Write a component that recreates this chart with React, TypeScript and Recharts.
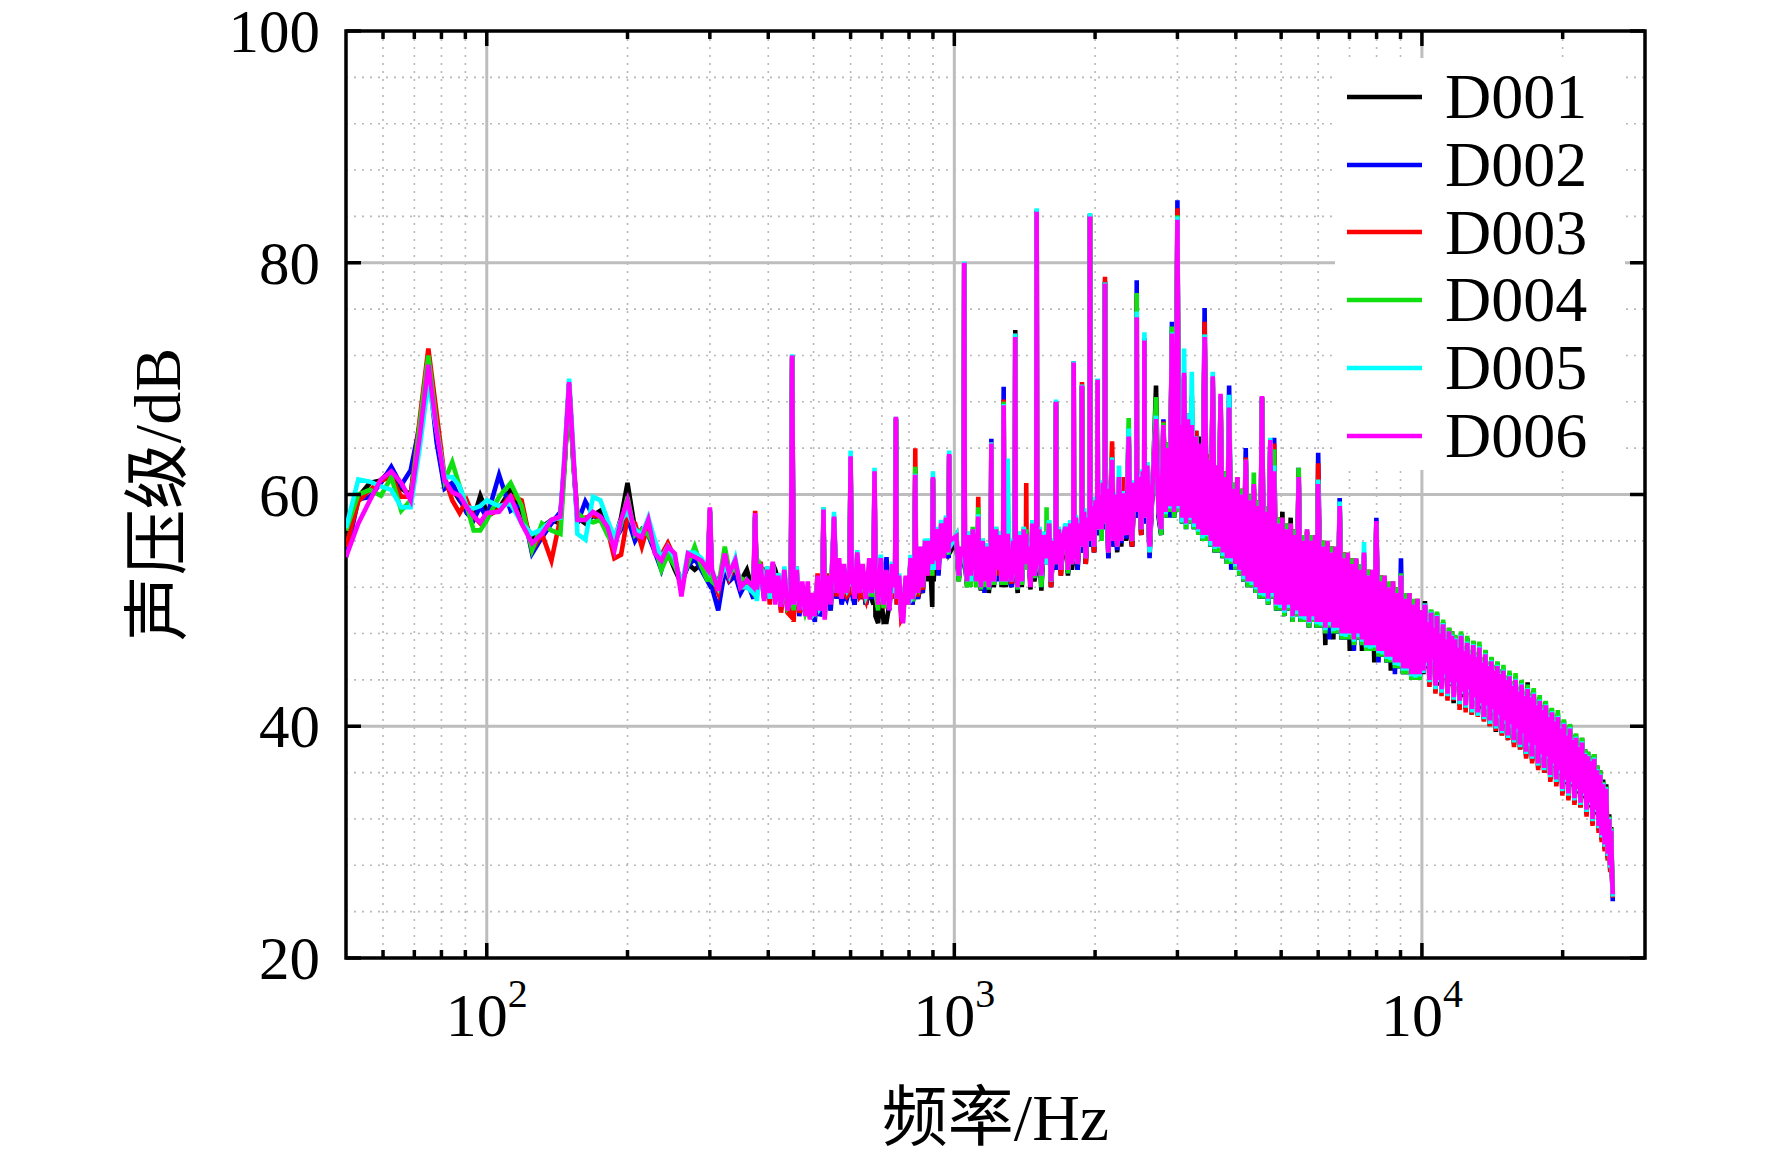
import {
  LineChart,
  Line,
  XAxis,
  YAxis,
  CartesianGrid,
  ReferenceArea,
  Legend,
} from "recharts";

// frequency axis (Hz)
const freq = [
  // 50 - 200
  50, 53.125, 56.25, 59.375, 62.5, 65.625, 68.75, 71.875, 75, 78.125,
  81.25, 84.375, 87.5, 90.625, 93.75, 96.875, 100, 106.25, 112.5, 118.75,
  125, 131.25, 137.5, 143.75, 146.875, 150, 153.125, 156.25, 162.5, 168.75,
  175, 181.25, 187.5, 193.75, 200,
  // 200 - 1000
  207.5, 214.6, 221.6, 229, 236.3, 244, 252.5, 260.8, 269.4, 278.4,
  287.7, 296.9, 300, 303.1, 312.6, 322.9, 330, 340, 349, 360,
  371.9, 375, 378.1, 385, 392, 398, 403, 409, 414, 420,
  426, 433, 440, 446.9, 450, 453.1, 460, 466, 473, 480,
  486, 491, 496, 503, 510, 516, 521.9, 525, 528.1, 535,
  544, 553, 560, 567, 574, 581, 589, 596.9, 600, 603.1,
  612, 620, 628, 637, 647, 658, 665, 671.9, 675, 678.1,
  687, 696, 706, 716, 726, 736, 746.9, 750, 753.1, 762,
  770, 777, 787, 797, 806, 814, 821.9, 825, 828.1, 836,
  846, 856, 866, 876, 886, 896.9, 900, 903.1, 914, 925,
  937, 950, 960, 971.9, 975, 978.1,
  // 1000 - 2800
  1010, 1022, 1035, 1046.9, 1050, 1053.1, 1065, 1075, 1085, 1095,
  1105, 1115, 1121.9, 1125, 1128.1, 1140, 1150, 1160, 1172, 1185,
  1196.9, 1200, 1203.1, 1215, 1228, 1240, 1252, 1262, 1271.9, 1275,
  1278.1, 1290, 1300, 1312, 1325, 1337, 1346.9, 1350, 1353.1, 1366,
  1380, 1394, 1408, 1421.9, 1425, 1428.1, 1441, 1455, 1469, 1483,
  1496.9, 1500, 1503.1, 1519, 1535, 1553, 1571.9, 1575, 1578.1, 1594,
  1610, 1628, 1646.9, 1650, 1653.1, 1671, 1690, 1710, 1730, 1750,
  1770, 1784, 1796.9, 1800, 1803.1, 1819, 1835, 1853, 1871.9, 1875,
  1878.1, 1894, 1910, 1928, 1946.9, 1950, 1953.1, 1971, 1990, 2005,
  2021.9, 2025, 2028.1, 2046, 2065, 2080, 2096.9, 2100, 2103.1, 2118,
  2135, 2155, 2175, 2192, 2210, 2230, 2250, 2275, 2300, 2330,
  2360, 2380, 2400, 2425, 2451.9, 2455, 2458.1, 2485, 2510, 2530,
  2546.9, 2550, 2553.1, 2585, 2615, 2655, 2700, 2735, 2770,
  // 2800 - 10000
  2800, 2830, 2860, 2890, 2920, 2950, 2980, 3000, 3020, 3040,
  3070, 3100, 3130, 3160, 3190, 3220, 3255, 3290, 3325, 3360,
  3395, 3430, 3465, 3500, 3535, 3570, 3605, 3640, 3675, 3710,
  3750, 3790, 3830, 3870, 3910, 3950, 3990, 4030, 4070, 4110,
  4155, 4200, 4240, 4280, 4325, 4370, 4415, 4460, 4505, 4550,
  4595, 4640, 4690, 4740, 4785, 4830, 4880, 4930, 4980, 5030,
  5080, 5130, 5185, 5240, 5290, 5340, 5395, 5450, 5505, 5560,
  5620, 5680, 5735, 5790, 5850, 5910, 5955, 6000, 6075, 6150,
  6215, 6280, 6340, 6400, 6465, 6530, 6600, 6670, 6735, 6800,
  6870, 6940, 7010, 7080, 7155, 7230, 7300, 7370, 7445, 7520,
  7600, 7680, 7755, 7830, 7910, 7990, 8075, 8160, 8240, 8320,
  8405, 8490, 8580, 8670, 8755, 8840, 8930, 9020, 9115, 9210,
  9305, 9400, 9495, 9590, 9685, 9780, 9890, 10000,
  // 10000 - 25600
  10075, 10150, 10225, 10300, 10380, 10460, 10535, 10610, 10690, 10770,
  10850, 10930, 11015, 11100, 11180, 11260, 11345, 11430, 11515, 11600,
  11690, 11780, 11865, 11950, 12040, 12130, 12220, 12310, 12405, 12500,
  12595, 12690, 12785, 12880, 12975, 13070, 13170, 13270, 13370, 13470,
  13570, 13670, 13770, 13870, 13975, 14080, 14185, 14290, 14395, 14500,
  14610, 14720, 14830, 14940, 15055, 15170, 15280, 15390, 15505, 15620,
  15740, 15860, 15980, 16100, 16220, 16340, 16460, 16580, 16705, 16830,
  16955, 17080, 17210, 17340, 17470, 17600, 17730, 17860, 17995, 18130,
  18265, 18400, 18540, 18680, 18820, 18960, 19100, 19240, 19385, 19530,
  19675, 19820, 19970, 20120, 20270, 20420, 20575, 20730, 20885, 21040,
  21195, 21350, 21510, 21670, 21835, 22000, 22165, 22330, 22495, 22660,
  22830, 23000, 23175, 23350, 23525, 23700, 23875, 24050, 24230, 24410,
  24595, 24780, 24965, 25150, 25275, 25400, 25500, 25600,
];

const d001 = [
  56.0, 59.8, 61.0, 61.2, 62.2, 60.5, 60.0, 66.0, 71.5, 65.0,
  60.7, 60.5, 59.5, 58.8, 58.0, 59.9, 58.5, 58.8, 60.4, 58.5,
  56.0, 57.2, 57.8, 57.5, 63.0, 69.5, 63.0, 58.0, 57.5, 58.2,
  58.6, 57.2, 56.0, 58.0, 61.0,
  57.0, 56.0, 57.0, 55.5, 54.0, 55.0, 53.5, 52.3, 54.0, 53.5,
  54.0, 53.0, 58.5, 53.0, 52.5, 54.0, 53.5, 53.0, 52.5, 53.5,
  51.5, 58.0, 52.0, 53.5, 53.5, 53.0, 51.0, 54.0, 53.5, 52.5,
  51.5, 53.0, 50.5, 51.5, 71.8, 51.0, 53.0, 50.5, 52.0, 50.0,
  50.0, 50.5, 50.5, 50.0, 52.5, 50.5, 51.0, 58.3, 50.0, 52.5,
  50.0, 57.6, 51.0, 53.0, 51.5, 52.0, 51.0, 53.5, 63.0, 52.5,
  50.5, 54.5, 51.0, 52.0, 50.5, 52.0, 51.0, 50.5, 61.8, 49.5,
  48.9, 51.5, 49.0, 49.0, 50.5, 53.0, 51.5, 66.5, 51.5, 52.5,
  50.0, 50.5, 52.5, 51.0, 54.0, 50.5, 52.5, 61.5, 52.5, 51.0,
  52.0, 51.5, 55.5, 52.5, 55.0, 50.3, 61.3, 52.5, 56.5, 54.8,
  57.0, 55.0, 57.5, 54.5, 63.3, 55.0,
  56.0, 52.5, 55.0, 54.5, 79.8, 54.5, 52.0, 56.0, 53.5, 56.5,
  55.0, 52.0, 54.0, 57.8, 54.0, 51.7, 55.5, 52.0, 55.0, 51.5,
  53.5, 64.3, 53.5, 52.0, 56.5, 53.0, 56.0, 52.0, 54.0, 67.9,
  54.0, 52.0, 55.5, 53.0, 52.0, 55.5, 53.5, 74.2, 53.5, 51.5,
  56.0, 52.0, 56.5, 53.5, 56.5, 53.5, 55.0, 51.8, 57.0, 52.5,
  53.5, 84.4, 53.5, 56.5, 51.7, 56.0, 54.0, 55.2, 54.0, 57.0,
  52.0, 55.5, 53.5, 67.8, 53.5, 56.5, 53.0, 56.0, 56.5, 53.0,
  57.0, 53.5, 54.5, 71.3, 54.5, 57.5, 53.5, 57.0, 55.0, 69.3,
  55.0, 58.0, 54.0, 57.5, 55.5, 84.0, 55.5, 58.5, 55.0, 59.0,
  56.5, 69.7, 56.5, 59.5, 56.5, 60.5, 57.0, 78.3, 57.0, 60.0,
  54.5, 59.0, 62.5, 55.5, 59.5, 55.0, 61.0, 55.5, 59.5, 56.0,
  64.5, 56.5, 55.5, 60.5, 58.0, 76.0, 58.0, 61.0, 56.5, 61.5,
  57.5, 73.2, 57.5, 62.0, 55.0, 60.5, 69.4, 58.0, 56.5,
  66.0, 58.0, 64.5, 58.5, 74.0, 58.0, 63.5, 84.0, 58.5, 66.5,
  57.5, 70.2, 58.0, 67.0, 57.5, 67.0, 57.0, 65.5, 56.5, 65.0,
  56.0, 73.5, 56.0, 63.5, 55.5, 70.0, 55.0, 62.0, 55.0, 68.5,
  54.5, 62.0, 54.0, 67.3, 54.0, 61.0, 53.5, 61.2, 53.0, 60.5,
  52.5, 63.0, 52.0, 60.0, 52.0, 60.7, 51.5, 59.5, 51.0, 68.4,
  51.0, 59.0, 50.5, 64.5, 51.0, 62.0, 50.0, 58.0, 50.0, 58.5,
  49.5, 57.5, 50.0, 58.0, 49.0, 57.0, 49.5, 61.5, 49.0, 56.5,
  49.0, 56.8, 48.5, 56.5, 49.0, 56.2, 48.5, 60.9, 48.5, 56.0,
  47.0, 55.8, 48.5, 55.5, 47.5, 55.3, 48.0, 58.9, 47.5, 55.0,
  47.5, 54.8, 46.5, 54.5, 47.0, 54.4, 47.5, 54.0, 46.5, 54.8,
  46.5, 53.5, 46.5, 53.3, 45.5, 57.5, 46.0, 53.0, 46.0, 52.8,
  45.5, 52.4, 44.8, 52.0, 45.0, 52.0, 45.0, 53.0, 44.5, 51.3,
  44.5, 51.0, 44.0, 50.8, 44.0, 50.5, 44.0, 49.8,
  44.5, 50.8, 45.0, 49.5, 43.8, 50.0, 45.5, 48.8, 43.0, 49.8,
  43.5, 48.3, 43.0, 49.0, 44.0, 47.8, 42.5, 48.5, 43.5, 48.2,
  42.0, 47.8, 43.5, 47.2, 41.8, 48.0, 42.5, 46.8, 41.5, 47.6,
  42.8, 46.5, 41.0, 47.3, 42.2, 46.4, 41.0, 47.0, 41.5, 45.8,
  40.5, 46.5, 41.5, 45.5, 40.0, 45.9, 41.0, 45.2, 39.5, 45.5,
  40.6, 44.9, 39.2, 45.0, 40.0, 44.3, 38.8, 44.6, 39.8, 43.9,
  38.4, 44.3, 39.4, 43.3, 38.0, 43.9, 39.0, 43.0, 37.4, 43.8,
  38.2, 42.8, 37.0, 43.1, 38.0, 42.2, 36.4, 42.5, 37.2, 41.8,
  36.0, 42.1, 37.0, 41.2, 35.4, 41.5, 36.4, 40.8, 35.0, 41.1,
  35.8, 40.2, 34.2, 40.5, 35.0, 39.6, 33.8, 40.1, 34.8, 39.2,
  33.4, 39.3, 34.2, 38.6, 33.0, 39.0, 33.8, 38.0, 32.4, 37.8,
  33.0, 37.4, 31.6, 37.6, 32.4, 36.6, 31.0, 36.2, 30.2, 35.4,
  29.4, 35.0, 28.6, 32.4, 27.6, 31.3, 27.2, 25.3,
];

const d002 = [
  54.6, 59.6, 59.8, 61.0, 62.4, 60.8, 62.1, 66.0, 71.0, 64.5,
  60.5, 61.0, 59.6, 58.4, 57.8, 59.0, 58.0, 61.7, 58.6, 59.2,
  54.9, 56.3, 57.5, 58.5, 63.0, 69.5, 63.0, 57.5, 59.4, 58.2,
  57.8, 57.2, 56.0, 57.0, 58.0,
  56.0, 57.0, 56.5, 55.0, 53.5, 55.5, 54.0, 52.5, 53.8, 54.5,
  53.5, 52.5, 58.6, 52.0, 50.0, 53.5, 52.5, 53.0, 51.5, 52.5,
  51.0, 58.2, 51.5, 53.5, 51.0, 53.0, 52.5, 53.8, 51.5, 52.5,
  50.0, 53.0, 49.8, 50.5, 72.0, 50.5, 53.0, 49.5, 51.0, 49.8,
  51.5, 49.5, 50.5, 49.0, 52.5, 49.5, 50.0, 58.5, 50.0, 52.5,
  50.0, 58.0, 51.0, 52.5, 50.5, 51.5, 51.0, 52.0, 63.0, 51.5,
  50.5, 54.0, 51.0, 52.5, 50.5, 52.0, 51.0, 52.0, 61.9, 52.5,
  50.5, 54.6, 51.0, 54.6, 50.0, 53.5, 51.0, 66.5, 50.5, 52.5,
  49.8, 50.0, 52.5, 51.5, 54.0, 50.5, 52.0, 62.0, 51.5, 51.0,
  53.0, 51.5, 55.5, 53.5, 55.5, 53.5, 61.3, 53.5, 56.5, 53.0,
  57.0, 55.5, 57.5, 54.5, 63.3, 55.5,
  56.0, 52.8, 54.5, 54.0, 79.9, 54.0, 52.3, 56.2, 52.5, 56.8,
  54.5, 52.2, 54.5, 57.9, 54.5, 51.8, 55.8, 51.5, 55.2, 51.8,
  54.0, 64.8, 54.0, 52.2, 56.8, 52.5, 56.2, 52.2, 54.0, 69.3,
  54.0, 52.2, 56.0, 53.2, 52.0, 55.8, 53.5, 73.8, 53.5, 51.8,
  56.2, 52.2, 56.8, 53.5, 56.8, 53.5, 55.2, 52.5, 57.2, 52.8,
  53.5, 84.5, 53.5, 56.8, 52.0, 56.2, 54.0, 55.0, 54.0, 57.2,
  52.0, 55.8, 53.5, 68.0, 53.5, 56.8, 54.0, 56.2, 56.8, 53.2,
  57.2, 54.5, 54.5, 71.5, 54.5, 57.8, 53.5, 57.2, 55.0, 69.4,
  55.0, 58.2, 54.0, 57.8, 55.5, 84.2, 55.5, 58.8, 55.0, 59.2,
  56.5, 69.8, 56.5, 59.8, 56.5, 60.8, 57.0, 78.4, 57.0, 60.2,
  54.5, 59.2, 63.2, 55.5, 59.8, 55.2, 61.2, 55.8, 60.0, 56.2,
  65.0, 56.8, 55.5, 60.8, 58.0, 78.5, 58.0, 61.2, 56.5, 61.8,
  57.5, 73.5, 57.5, 62.2, 54.5, 60.8, 66.8, 58.2, 56.5,
  66.5, 58.0, 64.0, 58.0, 74.9, 58.0, 62.5, 85.4, 58.5, 65.5,
  57.5, 70.0, 57.0, 66.0, 57.5, 65.1, 57.0, 64.5, 56.5, 63.0,
  56.0, 76.1, 56.0, 62.5, 55.5, 69.5, 55.0, 62.0, 55.0, 67.5,
  54.5, 61.0, 54.0, 69.4, 53.5, 60.5, 53.5, 61.0, 53.0, 59.5,
  52.5, 64.0, 52.0, 59.0, 52.0, 60.5, 51.5, 58.5, 51.0, 68.3,
  51.0, 58.0, 50.5, 64.5, 51.0, 64.9, 50.0, 57.0, 50.0, 57.5,
  49.5, 56.5, 50.0, 57.0, 49.0, 56.0, 49.5, 62.3, 49.0, 55.5,
  49.0, 56.5, 48.5, 55.5, 49.0, 56.0, 48.5, 63.6, 48.5, 55.0,
  48.0, 55.5, 47.5, 54.5, 48.0, 55.0, 48.0, 59.7, 47.5, 54.0,
  47.5, 54.5, 47.5, 53.5, 46.5, 54.0, 47.5, 53.0, 47.0, 54.6,
  46.5, 52.5, 46.5, 53.0, 46.5, 58.0, 45.5, 52.0, 46.0, 52.5,
  45.5, 51.5, 45.5, 52.0, 44.5, 51.0, 45.0, 54.5, 44.5, 50.5,
  44.5, 51.0, 44.0, 50.0, 44.0, 50.5, 44.0, 49.5,
  44.9, 50.3, 45.8, 48.8, 43.6, 49.6, 46.0, 48.2, 43.2, 49.2,
  44.3, 47.6, 42.9, 48.5, 44.8, 47.2, 42.5, 47.9, 44.0, 47.5,
  42.3, 47.2, 44.0, 46.4, 41.9, 47.5, 43.2, 46.2, 41.6, 46.9,
  43.4, 45.9, 41.3, 46.6, 42.7, 45.7, 41.0, 46.5, 42.2, 45.2,
  40.6, 45.9, 42.0, 44.9, 40.3, 45.2, 41.7, 44.5, 39.8, 44.9,
  41.2, 44.2, 39.4, 44.5, 40.7, 43.7, 39.0, 43.9, 40.4, 43.2,
  38.6, 43.7, 40.0, 42.7, 38.2, 43.2, 39.6, 42.3, 37.6, 42.8,
  38.8, 42.2, 37.2, 42.5, 38.6, 41.5, 36.6, 41.9, 37.8, 41.1,
  36.2, 41.5, 37.6, 40.5, 35.6, 40.8, 37.0, 40.1, 35.2, 40.4,
  36.4, 39.5, 34.4, 39.9, 35.6, 38.9, 34.0, 39.4, 35.4, 38.5,
  33.6, 38.7, 34.8, 37.9, 33.2, 38.3, 34.4, 37.3, 32.6, 37.0,
  33.6, 36.7, 31.8, 36.8, 33.0, 35.9, 31.2, 35.4, 30.4, 34.4,
  29.6, 34.2, 28.8, 31.6, 27.8, 30.6, 27.2, 24.9,
];

const d003 = [
  55.5, 59.4, 60.4, 61.2, 61.5, 59.8, 59.8, 66.5, 72.6, 67.0,
  61.5, 59.5, 58.4, 59.5, 58.1, 57.5, 58.1, 58.7, 59.9, 59.5,
  55.2, 56.6, 54.3, 58.0, 63.0, 69.5, 63.0, 58.0, 58.0, 58.2,
  58.0, 57.0, 54.5, 54.8, 58.0,
  57.5, 55.5, 57.5, 55.0, 54.8, 55.8, 54.5, 52.0, 54.5, 55.0,
  54.0, 52.8, 58.7, 53.0, 51.5, 54.5, 52.8, 54.0, 52.0, 52.0,
  52.5, 58.6, 51.5, 54.2, 52.0, 53.8, 50.5, 54.0, 51.5, 53.2,
  49.8, 53.2, 49.8, 49.5, 72.0, 49.0, 53.8, 49.8, 50.5, 50.0,
  51.0, 49.5, 49.5, 49.8, 53.2, 50.2, 51.5, 58.6, 49.5, 53.2,
  50.8, 57.8, 51.2, 53.5, 51.2, 51.8, 51.2, 51.5, 63.2, 52.0,
  51.2, 54.8, 51.2, 51.5, 50.8, 52.5, 51.2, 52.5, 61.9, 52.0,
  50.2, 54.2, 50.2, 51.8, 50.2, 53.8, 51.0, 66.6, 50.5, 52.8,
  49.2, 49.5, 52.8, 52.0, 54.2, 50.8, 53.0, 64.0, 53.5, 51.2,
  52.5, 51.8, 55.8, 53.0, 55.8, 53.0, 61.4, 54.0, 56.8, 54.0,
  57.2, 55.5, 57.8, 55.5, 63.4, 55.5,
  56.5, 53.2, 55.0, 55.0, 80.0, 55.0, 52.8, 56.5, 53.5, 57.0,
  55.0, 52.8, 55.0, 59.8, 55.0, 52.3, 56.0, 52.5, 55.5, 52.2,
  54.0, 64.5, 54.0, 52.8, 57.0, 53.0, 56.5, 52.8, 54.5, 68.2,
  54.5, 52.8, 56.0, 53.8, 52.3, 56.0, 54.0, 73.9, 54.0, 52.2,
  56.5, 52.8, 57.0, 54.0, 61.0, 54.0, 55.5, 52.5, 57.5, 53.2,
  54.0, 84.5, 54.0, 57.0, 52.5, 56.5, 54.5, 56.0, 54.5, 57.5,
  52.0, 56.0, 54.0, 68.0, 54.0, 57.0, 53.0, 56.5, 57.0, 53.5,
  57.5, 54.0, 55.0, 71.4, 55.0, 58.0, 54.0, 57.5, 55.5, 69.7,
  55.5, 58.5, 54.0, 58.0, 56.0, 84.1, 56.0, 59.0, 55.0, 59.5,
  57.0, 69.9, 57.0, 60.0, 56.5, 61.0, 57.5, 78.8, 57.5, 60.5,
  55.0, 59.5, 64.6, 56.0, 60.0, 55.5, 61.3, 56.0, 61.5, 56.5,
  65.2, 57.0, 55.5, 61.0, 58.5, 77.0, 58.5, 61.5, 56.5, 62.0,
  58.0, 73.4, 58.0, 62.5, 55.0, 61.0, 67.0, 58.5, 57.0,
  66.3, 58.5, 64.5, 59.0, 74.0, 58.5, 63.5, 84.7, 59.0, 66.5,
  58.0, 70.3, 57.5, 67.0, 58.0, 68.5, 57.5, 65.5, 57.0, 64.0,
  56.5, 74.9, 56.5, 63.5, 56.0, 69.8, 55.5, 62.5, 55.5, 68.3,
  55.0, 62.0, 54.5, 67.0, 54.5, 61.0, 54.0, 61.5, 53.5, 60.5,
  53.0, 63.2, 52.5, 60.0, 52.5, 60.5, 52.0, 59.5, 51.5, 68.4,
  51.5, 59.0, 51.0, 64.5, 51.5, 64.4, 50.5, 58.0, 50.5, 58.0,
  50.0, 57.0, 50.5, 57.0, 49.5, 57.0, 50.0, 61.8, 49.5, 56.5,
  49.5, 56.6, 49.0, 56.5, 49.5, 56.0, 49.0, 62.7, 49.0, 56.0,
  48.5, 55.5, 49.0, 55.5, 48.5, 55.0, 48.5, 59.0, 48.0, 55.0,
  48.0, 54.5, 48.0, 54.5, 47.5, 54.3, 48.0, 54.0, 47.5, 54.8,
  47.0, 53.5, 47.0, 53.0, 47.0, 57.5, 46.5, 53.0, 46.5, 52.5,
  46.0, 52.3, 46.0, 52.5, 45.5, 52.0, 45.5, 53.0, 45.0, 51.2,
  45.0, 51.5, 44.5, 50.8, 44.5, 51.0, 44.5, 50.0,
  44.6, 50.4, 45.2, 49.0, 43.4, 49.6, 45.6, 48.3, 42.8, 49.4,
  44.1, 47.8, 42.6, 48.6, 44.2, 47.3, 42.2, 47.9, 43.6, 47.6,
  42.2, 47.3, 43.6, 46.5, 41.4, 47.6, 42.8, 46.3, 41.2, 47.0,
  43.0, 46.0, 41.0, 46.8, 42.4, 45.8, 40.8, 46.6, 41.8, 45.3,
  40.4, 46.0, 41.6, 45.0, 40.0, 45.3, 41.4, 44.6, 39.6, 45.0,
  40.8, 44.3, 39.2, 44.6, 40.4, 43.8, 38.8, 44.0, 40.0, 43.3,
  38.2, 43.8, 39.6, 42.8, 38.0, 43.4, 39.2, 42.4, 37.2, 43.0,
  38.4, 42.3, 36.8, 42.6, 38.2, 41.6, 36.2, 42.0, 37.4, 41.2,
  36.0, 41.6, 37.2, 40.6, 35.2, 41.0, 36.6, 40.2, 34.8, 40.6,
  36.0, 39.6, 34.0, 40.0, 35.2, 39.0, 33.6, 39.6, 35.0, 38.6,
  33.2, 38.8, 34.4, 38.0, 33.0, 38.4, 34.0, 37.4, 32.2, 37.2,
  33.2, 36.8, 31.4, 37.0, 32.6, 36.0, 30.8, 35.6, 30.0, 34.8,
  29.2, 34.4, 28.4, 31.8, 27.4, 30.8, 27.0, 25.2,
];

const d004 = [
  56.9, 60.0, 60.4, 59.9, 61.5, 58.6, 59.5, 66.0, 72.0, 66.0,
  61.2, 62.8, 60.7, 59.0, 56.9, 56.9, 57.8, 59.8, 61.0, 59.0,
  55.2, 57.5, 56.9, 56.6, 62.5, 69.5, 62.5, 58.4, 57.8, 57.6,
  57.8, 56.5, 55.6, 57.4, 59.8,
  56.5, 57.0, 56.5, 55.5, 53.5, 54.8, 53.8, 52.5, 54.0, 55.5,
  53.8, 52.5, 58.5, 52.5, 52.0, 55.5, 53.5, 53.5, 52.8, 52.5,
  51.5, 58.0, 52.0, 53.8, 53.0, 53.2, 52.0, 53.8, 52.5, 52.8,
  50.5, 53.2, 50.2, 50.5, 71.8, 50.0, 53.2, 50.2, 51.0, 49.8,
  50.5, 49.8, 50.5, 50.0, 52.8, 50.2, 51.0, 58.9, 49.8, 52.8,
  51.0, 58.0, 51.5, 52.8, 51.5, 52.5, 51.5, 52.8, 63.2, 52.8,
  51.5, 54.5, 51.8, 53.0, 51.2, 52.5, 51.2, 52.0, 61.8, 51.5,
  50.0, 54.0, 50.2, 52.0, 50.5, 53.5, 51.5, 66.5, 51.5, 52.8,
  50.0, 50.0, 52.2, 50.5, 54.2, 50.8, 51.5, 62.4, 52.0, 51.8,
  54.0, 52.0, 55.5, 53.8, 55.5, 53.0, 61.4, 53.8, 56.8, 56.0,
  57.2, 55.0, 57.8, 54.8, 63.3, 55.8,
  56.0, 52.5, 55.5, 54.5, 79.8, 54.5, 52.0, 56.8, 52.0, 57.2,
  55.5, 52.0, 55.0, 58.9, 55.0, 51.8, 56.2, 52.0, 55.8, 51.8,
  54.5, 64.4, 54.5, 52.2, 57.2, 53.5, 56.8, 52.2, 54.5, 68.0,
  54.5, 52.2, 56.5, 53.2, 53.0, 56.2, 54.0, 73.8, 54.0, 51.8,
  56.8, 52.2, 57.2, 53.5, 57.0, 53.5, 55.8, 52.5, 57.8, 52.8,
  54.0, 84.4, 54.0, 57.2, 52.0, 56.8, 54.5, 58.9, 54.5, 57.8,
  52.5, 56.2, 54.0, 67.9, 54.0, 57.2, 54.0, 56.8, 57.0, 53.2,
  57.8, 54.5, 55.0, 71.4, 55.0, 58.2, 54.5, 57.8, 55.5, 69.4,
  55.5, 58.8, 55.0, 58.2, 56.0, 84.0, 56.0, 59.2, 55.5, 59.8,
  57.0, 69.8, 57.0, 60.2, 56.0, 61.2, 57.5, 78.3, 57.5, 60.8,
  55.5, 59.8, 63.0, 56.5, 60.2, 55.8, 61.5, 56.2, 60.0, 56.8,
  66.6, 57.2, 56.0, 61.2, 58.5, 77.4, 58.5, 61.8, 57.0, 62.2,
  58.0, 73.4, 58.0, 62.8, 55.5, 61.2, 68.4, 58.6, 56.5,
  66.2, 58.0, 64.5, 58.5, 74.5, 58.0, 63.0, 84.1, 58.5, 66.0,
  57.5, 70.0, 57.0, 67.0, 57.5, 68.5, 57.0, 65.0, 56.5, 64.0,
  56.0, 73.8, 56.0, 63.0, 55.5, 70.0, 55.0, 62.5, 55.0, 68.3,
  54.5, 62.0, 54.0, 67.5, 54.0, 61.0, 53.5, 61.5, 53.0, 60.5,
  52.5, 63.0, 52.0, 60.0, 52.0, 61.9, 51.5, 59.5, 51.0, 68.4,
  51.0, 59.0, 50.5, 64.5, 51.0, 63.9, 50.0, 58.0, 50.0, 58.0,
  49.5, 57.5, 50.0, 57.5, 49.0, 57.0, 49.5, 62.3, 49.0, 56.5,
  49.0, 57.0, 48.5, 56.5, 49.0, 56.5, 48.5, 61.0, 48.5, 56.0,
  48.0, 56.0, 48.5, 55.5, 48.0, 55.5, 48.0, 59.2, 47.5, 55.0,
  47.5, 55.0, 47.5, 54.5, 47.0, 54.5, 47.5, 54.0, 47.0, 55.0,
  46.5, 53.5, 46.5, 53.5, 46.5, 57.6, 46.0, 53.0, 46.0, 53.0,
  45.5, 52.5, 45.5, 52.5, 45.0, 52.0, 45.0, 53.2, 44.5, 51.5,
  44.5, 51.5, 44.0, 51.0, 44.0, 51.0, 44.0, 50.0,
  45.2, 50.2, 46.0, 49.5, 44.3, 50.1, 46.3, 48.8, 43.8, 49.9,
  44.6, 48.3, 43.5, 49.2, 45.0, 47.8, 43.2, 48.5, 44.3, 48.2,
  42.8, 47.9, 44.2, 47.3, 42.6, 48.2, 43.4, 46.9, 42.2, 47.8,
  43.6, 46.6, 41.8, 47.4, 43.0, 46.4, 41.6, 47.3, 42.4, 46.0,
  41.2, 46.6, 42.2, 45.6, 40.9, 46.0, 41.9, 45.3, 40.4, 45.6,
  41.4, 44.9, 40.0, 45.3, 40.9, 44.4, 39.6, 44.8, 40.6, 43.9,
  39.2, 44.6, 40.2, 43.4, 38.8, 44.0, 39.8, 43.0, 38.2, 43.6,
  39.0, 42.9, 37.8, 43.3, 38.8, 42.2, 37.2, 42.7, 38.0, 41.8,
  36.8, 42.2, 37.8, 41.3, 36.2, 41.6, 37.2, 40.8, 35.8, 41.4,
  36.6, 40.2, 35.0, 40.6, 35.8, 39.6, 34.6, 40.2, 35.6, 39.2,
  34.2, 39.4, 35.0, 38.6, 33.8, 39.0, 34.6, 38.0, 33.2, 37.8,
  33.8, 37.4, 32.4, 37.6, 33.2, 36.6, 31.8, 36.2, 31.0, 35.2,
  30.2, 34.8, 29.4, 32.2, 28.4, 31.2, 27.8, 25.4,
];

const d005 = [
  57.1, 61.3, 61.1, 60.7, 60.4, 58.9, 58.9, 64.0, 69.7, 65.5,
  61.5, 61.5, 60.7, 58.9, 58.8, 59.0, 59.5, 59.0, 59.2, 57.5,
  56.6, 57.0, 57.8, 58.0, 64.0, 70.0, 64.0, 56.6, 56.1, 59.8,
  59.5, 57.8, 56.3, 57.8, 58.5,
  57.0, 56.5, 58.0, 56.0, 54.5, 55.5, 54.5, 52.0, 55.0, 55.0,
  54.5, 53.5, 58.8, 53.5, 52.0, 54.0, 53.0, 54.5, 52.0, 52.0,
  51.5, 58.2, 50.8, 53.8, 52.0, 53.8, 51.0, 54.0, 51.5, 53.2,
  50.5, 53.8, 50.2, 50.8, 72.1, 50.5, 53.8, 50.2, 51.0, 50.0,
  50.5, 49.8, 49.5, 49.8, 52.8, 50.2, 50.5, 58.9, 49.5, 52.8,
  50.8, 58.5, 51.8, 53.5, 51.2, 52.5, 51.8, 52.5, 63.8, 53.0,
  51.2, 55.2, 51.8, 52.5, 51.2, 52.0, 51.8, 52.5, 62.3, 52.5,
  50.8, 54.8, 50.8, 52.0, 50.2, 54.2, 51.5, 66.7, 51.0, 53.2,
  49.8, 49.5, 52.8, 51.0, 54.8, 51.2, 51.5, 61.8, 52.5, 51.8,
  55.5, 52.2, 56.2, 54.0, 56.2, 53.5, 62.0, 53.5, 57.2, 53.8,
  57.8, 55.8, 58.2, 55.0, 63.8, 55.5,
  56.5, 53.0, 55.0, 55.5, 80.1, 55.5, 52.5, 56.8, 52.5, 57.0,
  56.0, 52.5, 55.5, 58.3, 55.5, 52.0, 56.2, 52.5, 55.8, 52.0,
  54.0, 64.5, 54.0, 52.5, 57.2, 53.5, 56.8, 52.5, 54.0, 67.8,
  54.0, 52.5, 63.1, 53.5, 52.5, 56.2, 54.5, 73.9, 54.5, 52.0,
  56.8, 52.5, 57.2, 54.0, 56.5, 54.0, 55.8, 52.5, 57.8, 53.0,
  54.0, 84.7, 54.0, 57.2, 53.0, 56.8, 54.0, 55.5, 54.0, 57.8,
  52.5, 56.2, 54.5, 68.2, 54.5, 57.2, 53.5, 56.8, 57.5, 53.5,
  57.8, 54.0, 55.0, 71.5, 55.0, 58.2, 54.0, 57.8, 55.5, 69.5,
  55.5, 58.8, 54.5, 58.2, 56.0, 84.3, 56.0, 59.2, 55.5, 59.8,
  57.0, 70.0, 57.0, 60.2, 57.0, 61.2, 57.5, 78.3, 57.5, 60.8,
  55.0, 59.8, 63.2, 56.0, 60.2, 55.5, 62.5, 56.0, 60.3, 56.5,
  65.7, 57.2, 56.0, 61.2, 58.5, 75.8, 58.5, 61.8, 57.0, 62.2,
  58.0, 74.0, 58.0, 62.8, 55.0, 61.2, 66.8, 58.6, 57.0,
  66.0, 58.3, 64.0, 58.8, 74.0, 58.6, 62.5, 84.0, 58.8, 66.0,
  57.6, 72.6, 57.4, 67.0, 57.8, 70.6, 57.2, 65.0, 56.8, 63.5,
  56.2, 73.8, 56.4, 63.0, 55.6, 70.6, 55.3, 62.0, 55.4, 68.5,
  54.7, 61.5, 54.4, 68.6, 54.2, 60.5, 53.8, 61.0, 53.4, 60.0,
  52.7, 63.0, 52.4, 59.5, 52.2, 60.5, 51.8, 59.0, 51.3, 68.4,
  51.2, 58.5, 50.8, 64.9, 51.2, 62.5, 50.4, 57.5, 50.2, 57.5,
  49.8, 57.0, 50.2, 57.0, 49.4, 56.5, 49.7, 61.5, 49.3, 56.0,
  49.2, 56.5, 48.9, 56.0, 49.2, 56.0, 48.8, 61.3, 48.7, 55.5,
  48.3, 55.5, 48.7, 55.0, 48.2, 55.0, 48.3, 59.4, 47.8, 54.5,
  47.7, 54.5, 47.9, 54.0, 47.3, 54.0, 47.7, 53.5, 47.3, 55.9,
  46.8, 53.0, 46.7, 53.0, 46.8, 57.5, 46.3, 52.5, 46.2, 52.5,
  45.8, 52.0, 45.7, 52.0, 45.3, 51.5, 45.2, 53.0, 44.8, 51.0,
  44.8, 51.0, 44.3, 50.5, 44.2, 50.5, 44.3, 49.5,
  44.6, 50.6, 45.2, 49.2, 43.8, 49.9, 45.5, 48.5, 43.2, 49.6,
  43.8, 47.9, 42.9, 48.9, 44.2, 47.6, 42.6, 48.2, 43.6, 47.9,
  42.3, 47.6, 43.5, 46.9, 41.9, 47.9, 42.8, 46.6, 41.6, 47.3,
  42.9, 46.3, 41.2, 47.1, 42.2, 46.1, 40.9, 46.9, 41.8, 45.6,
  40.6, 46.3, 41.5, 45.3, 40.2, 45.7, 41.2, 44.9, 39.8, 45.3,
  40.7, 44.6, 39.4, 44.9, 40.2, 44.1, 39.0, 44.4, 39.9, 43.6,
  38.6, 44.1, 39.5, 43.1, 38.2, 43.7, 39.2, 42.7, 37.6, 43.3,
  38.3, 42.6, 37.2, 42.9, 38.1, 41.9, 36.6, 42.3, 37.3, 41.5,
  36.2, 41.9, 37.2, 40.9, 35.6, 41.3, 36.6, 40.5, 35.2, 40.9,
  35.9, 39.9, 34.4, 40.3, 35.2, 39.3, 34.0, 39.9, 35.0, 38.9,
  33.6, 39.1, 34.4, 38.3, 33.2, 38.7, 34.0, 37.7, 32.6, 37.5,
  33.2, 37.1, 31.8, 37.3, 32.6, 36.3, 31.2, 35.9, 30.4, 35.1,
  29.6, 34.7, 28.8, 32.1, 27.8, 31.1, 27.3, 25.3,
];

const d006 = [
  54.6, 57.5, 59.5, 61.3, 62.0, 61.0, 59.5, 65.0, 71.2, 65.5,
  61.2, 60.2, 59.9, 58.9, 58.1, 57.6, 58.4, 58.5, 59.8, 57.5,
  55.8, 56.6, 57.8, 58.1, 63.5, 69.7, 63.5, 57.8, 57.8, 58.5,
  58.1, 57.2, 55.2, 57.8, 59.5,
  56.6, 56.3, 57.8, 54.9, 54.3, 55.5, 54.9, 51.2, 54.9, 54.6,
  54.3, 53.5, 58.9, 53.5, 51.7, 54.9, 53.2, 54.3, 52.0, 52.6,
  52.0, 58.4, 51.8, 54.0, 50.8, 53.5, 51.5, 54.2, 50.5, 53.0,
  50.3, 53.5, 50.0, 51.0, 72.0, 50.5, 53.5, 50.0, 52.5, 49.5,
  52.5, 49.2, 51.5, 49.5, 53.0, 50.0, 50.5, 58.7, 49.2, 53.0,
  50.5, 58.1, 51.5, 54.5, 51.0, 54.0, 51.5, 53.0, 63.3, 53.5,
  51.0, 55.0, 51.5, 54.0, 51.0, 54.5, 51.5, 53.0, 62.0, 53.2,
  50.5, 54.5, 50.5, 53.5, 50.0, 54.0, 52.0, 66.7, 51.0, 53.0,
  49.5, 48.9, 53.0, 50.5, 54.5, 51.0, 52.0, 61.7, 53.0, 51.5,
  55.5, 52.0, 56.0, 53.0, 56.0, 54.0, 61.5, 54.3, 57.0, 53.5,
  57.5, 54.5, 58.0, 55.0, 63.5, 56.0,
  56.4, 53.0, 55.5, 55.0, 80.0, 55.0, 52.5, 56.5, 53.0, 57.0,
  55.5, 52.5, 55.0, 58.1, 55.0, 52.0, 56.0, 52.5, 55.5, 52.0,
  54.0, 64.4, 54.0, 52.5, 57.0, 53.5, 56.5, 52.5, 54.5, 67.7,
  54.5, 52.5, 56.6, 53.5, 52.5, 56.0, 54.0, 73.6, 54.0, 52.0,
  56.5, 52.5, 57.0, 54.0, 56.6, 54.0, 55.5, 52.0, 57.5, 53.0,
  54.0, 84.4, 54.0, 57.0, 53.0, 56.5, 54.5, 55.5, 54.5, 57.5,
  52.5, 56.0, 54.0, 68.0, 54.0, 57.0, 53.5, 56.5, 57.2, 53.5,
  57.5, 54.0, 55.0, 71.4, 55.0, 58.0, 54.0, 57.5, 55.5, 69.4,
  55.5, 58.5, 54.5, 58.0, 56.0, 84.0, 56.0, 59.0, 55.5, 59.5,
  57.0, 69.9, 57.0, 60.0, 57.0, 61.0, 57.5, 78.2, 57.5, 60.5,
  55.0, 59.5, 63.0, 56.0, 60.0, 55.5, 61.5, 56.0, 60.1, 56.5,
  65.0, 57.0, 56.0, 61.0, 58.5, 75.3, 58.5, 61.5, 57.0, 62.0,
  58.0, 73.3, 58.0, 62.5, 55.5, 61.0, 66.5, 58.5, 57.0,
  66.0, 58.5, 64.0, 59.0, 73.9, 58.5, 63.0, 83.7, 59.0, 66.0,
  58.0, 70.5, 57.5, 66.5, 58.0, 66.0, 57.5, 65.0, 57.0, 64.4,
  56.5, 73.6, 56.5, 63.0, 56.0, 70.2, 55.5, 62.5, 55.5, 68.7,
  55.0, 61.5, 54.5, 67.5, 54.5, 60.5, 54.0, 61.5, 53.5, 60.0,
  53.0, 63.0, 52.5, 59.5, 52.5, 60.9, 52.0, 59.0, 51.5, 68.5,
  51.5, 58.5, 51.0, 64.7, 51.5, 62.0, 50.5, 57.5, 50.5, 58.0,
  50.0, 57.0, 50.5, 57.5, 49.5, 56.5, 50.0, 61.5, 49.5, 56.0,
  49.5, 57.0, 49.0, 56.0, 49.5, 56.5, 49.0, 60.9, 49.0, 55.5,
  48.5, 56.0, 49.0, 55.0, 48.5, 55.5, 48.5, 59.0, 48.0, 54.5,
  48.0, 55.0, 48.0, 54.0, 47.5, 54.5, 48.0, 53.5, 47.5, 55.0,
  47.0, 53.0, 47.0, 53.5, 47.0, 57.7, 46.5, 52.5, 46.5, 53.0,
  46.0, 52.0, 46.0, 52.5, 45.5, 51.5, 45.5, 53.0, 45.0, 51.0,
  45.0, 51.5, 44.5, 50.5, 44.5, 51.0, 44.5, 50.0,
  44.8, 50.5, 45.5, 49.0, 44.0, 49.8, 45.8, 48.5, 43.5, 49.5,
  44.0, 48.0, 43.2, 48.8, 44.5, 47.5, 42.8, 48.2, 43.8, 47.8,
  42.5, 47.5, 43.8, 46.8, 42.2, 47.8, 43.0, 46.5, 41.8, 47.2,
  43.2, 46.2, 41.5, 47.0, 42.5, 46.0, 41.2, 46.8, 42.0, 45.5,
  40.8, 46.2, 41.8, 45.2, 40.5, 45.6, 41.5, 44.8, 40.0, 45.2,
  41.0, 44.5, 39.6, 44.8, 40.5, 44.0, 39.2, 44.3, 40.2, 43.5,
  38.8, 44.0, 39.8, 43.0, 38.4, 43.6, 39.4, 42.6, 37.8, 43.2,
  38.6, 42.5, 37.4, 42.8, 38.4, 41.8, 36.8, 42.2, 37.6, 41.4,
  36.4, 41.8, 37.4, 40.8, 35.8, 41.2, 36.8, 40.4, 35.4, 40.8,
  36.2, 39.8, 34.6, 40.2, 35.4, 39.2, 34.2, 39.8, 35.2, 38.8,
  33.8, 39.0, 34.6, 38.2, 33.4, 38.6, 34.2, 37.6, 32.8, 37.4,
  33.4, 37.0, 32.0, 37.2, 32.8, 36.2, 31.4, 35.8, 30.6, 35.0,
  29.8, 34.6, 29.0, 32.0, 28.0, 31.0, 27.5, 25.5,
];

const series = [
  { name: "D001", values: d001, color: "#000000" },
  { name: "D002", values: d002, color: "#0000ff" },
  { name: "D003", values: d003, color: "#ff0000" },
  { name: "D004", values: d004, color: "#10e010" },
  { name: "D005", values: d005, color: "#00ffff" },
  { name: "D006", values: d006, color: "#ff00ff" },
];

const freqTicks = [
  60, 70, 80, 90, 100, 200, 300, 400, 500, 600, 700, 800, 900, 1000,
  2000, 3000, 4000, 5000, 6000, 7000, 8000, 9000, 10000, 20000,
];
const freqMajor = [100, 1000, 10000];
const freqMinor = freqTicks.filter((t) => !freqMajor.includes(t));
const levelTicks = [20, 40, 60, 80, 100];
const levelMajor = [40, 60, 80];
const levelMinor = [24, 28, 32, 36, 44, 48, 52, 56, 64, 68, 72, 76, 84, 88, 92, 96];

const data = freq.map((f, i) => {
  const row: Record<string, number> = { f };
  series.forEach((s) => {
    row[s.name] = s.values[i];
  });
  return row;
});

const W = 1772;
const H = 1158;
const PLOT = { left: 346, top: 31, right: 1645, bottom: 958 };
const FONT = "'Liberation Serif', 'Times New Roman', 'Noto Sans CJK SC', serif";

function FreqTick(props: any) {
  const { x, payload } = props;
  const exp = Math.log10(payload.value);
  const decade = Math.abs(exp - Math.round(exp)) < 1e-6;
  const len = decade ? 15 : 8;
  return (
    <g>
      <line x1={x} x2={x} y1={PLOT.bottom} y2={PLOT.bottom - len} stroke="#000" strokeWidth={3.5} />
      <line x1={x} x2={x} y1={PLOT.top} y2={PLOT.top + len} stroke="#000" strokeWidth={3.5} />
      {decade && (
        <text x={x} y={1036} textAnchor="middle" fontFamily={FONT} fontSize={62} fill="#000">
          10
          <tspan dy={-29} fontSize={40}>
            {Math.round(exp)}
          </tspan>
        </text>
      )}
    </g>
  );
}

function LevelTick(props: any) {
  const { y, payload } = props;
  return (
    <g>
      <line x1={PLOT.left} x2={PLOT.left + 15} y1={y} y2={y} stroke="#000" strokeWidth={3.5} />
      <line x1={PLOT.right} x2={PLOT.right - 15} y1={y} y2={y} stroke="#000" strokeWidth={3.5} />
      <text x={320} y={y + 21} textAnchor="end" fontFamily={FONT} fontSize={61} fill="#000">
        {payload.value}
      </text>
    </g>
  );
}

function XTitle() {
  return (
    <text x={(PLOT.left + PLOT.right) / 2} y={1140} textAnchor="middle" fontFamily={FONT} fontSize={66} fill="#000">
      频率/Hz
    </text>
  );
}

function YTitle() {
  return (
    <text
      transform={`translate(157, ${(PLOT.top + PLOT.bottom) / 2}) rotate(-90)`}
      textAnchor="middle"
      dominantBaseline="central"
      fontFamily={FONT}
      fontSize={66}
      fill="#000"
    >
      声压级/dB
    </text>
  );
}

function LegendBox(props: any) {
  const { payload = [] } = props;
  return (
    <div style={{ fontFamily: FONT, paddingTop: 5 }}>
      {payload.map((entry: any) => (
        <div key={entry.value} style={{ display: "flex", alignItems: "center", height: 67.8 }}>
          <svg width={110} height={10} style={{ flex: "none" }}>
            <line x1={12} x2={87} y1={5} y2={5} stroke={entry.color} strokeWidth={4.5} />
          </svg>
          <span style={{ fontSize: 64, lineHeight: "67.8px", color: "#000" }}>{entry.value}</span>
        </div>
      ))}
    </div>
  );
}

export default function App() {
  return (
    <div style={{ position: "absolute", left: 0, top: 0, width: W, height: H, background: "#fff" }}>
      <LineChart width={W} height={H} data={data} margin={{ top: PLOT.top, right: W - PLOT.right, bottom: 0, left: 0 }}>
        <CartesianGrid
          verticalValues={freqMinor}
          horizontalValues={levelMinor}
          stroke="#b8b8b8"
          strokeWidth={1.6}
          strokeDasharray="2 6"
        />
        <CartesianGrid verticalValues={freqMajor} horizontalValues={levelMajor} stroke="#bdbdbd" strokeWidth={3} />
        <XAxis
          dataKey="f"
          type="number"
          scale="log"
          domain={[50, 30000]}
          allowDataOverflow
          ticks={freqTicks}
          interval={0}
          tick={<FreqTick />}
          tickLine={false}
          axisLine={false}
          height={H - PLOT.bottom}
          label={<XTitle />}
        />
        <YAxis
          type="number"
          domain={[20, 100]}
          allowDataOverflow
          ticks={levelTicks}
          interval={0}
          tick={<LevelTick />}
          tickLine={false}
          axisLine={false}
          width={PLOT.left}
          label={<YTitle />}
        />
        {series.map((s) => (
          <Line
            key={s.name}
            dataKey={s.name}
            name={s.name}
            stroke={s.color}
            strokeWidth={4.6}
            dot={false}
            type="linear"
            isAnimationActive={false}
          />
        ))}
        <ReferenceArea x1={50} x2={30000} y1={20} y2={100} fill="none" stroke="#000" strokeWidth={3.5} />
        <Legend
          layout="vertical"
          align="center"
          verticalAlign="middle"
          content={<LegendBox />}
          wrapperStyle={{ left: 1335, top: 58, width: 290, height: 412, backgroundColor: "#fff" }}
        />
      </LineChart>
    </div>
  );
}
